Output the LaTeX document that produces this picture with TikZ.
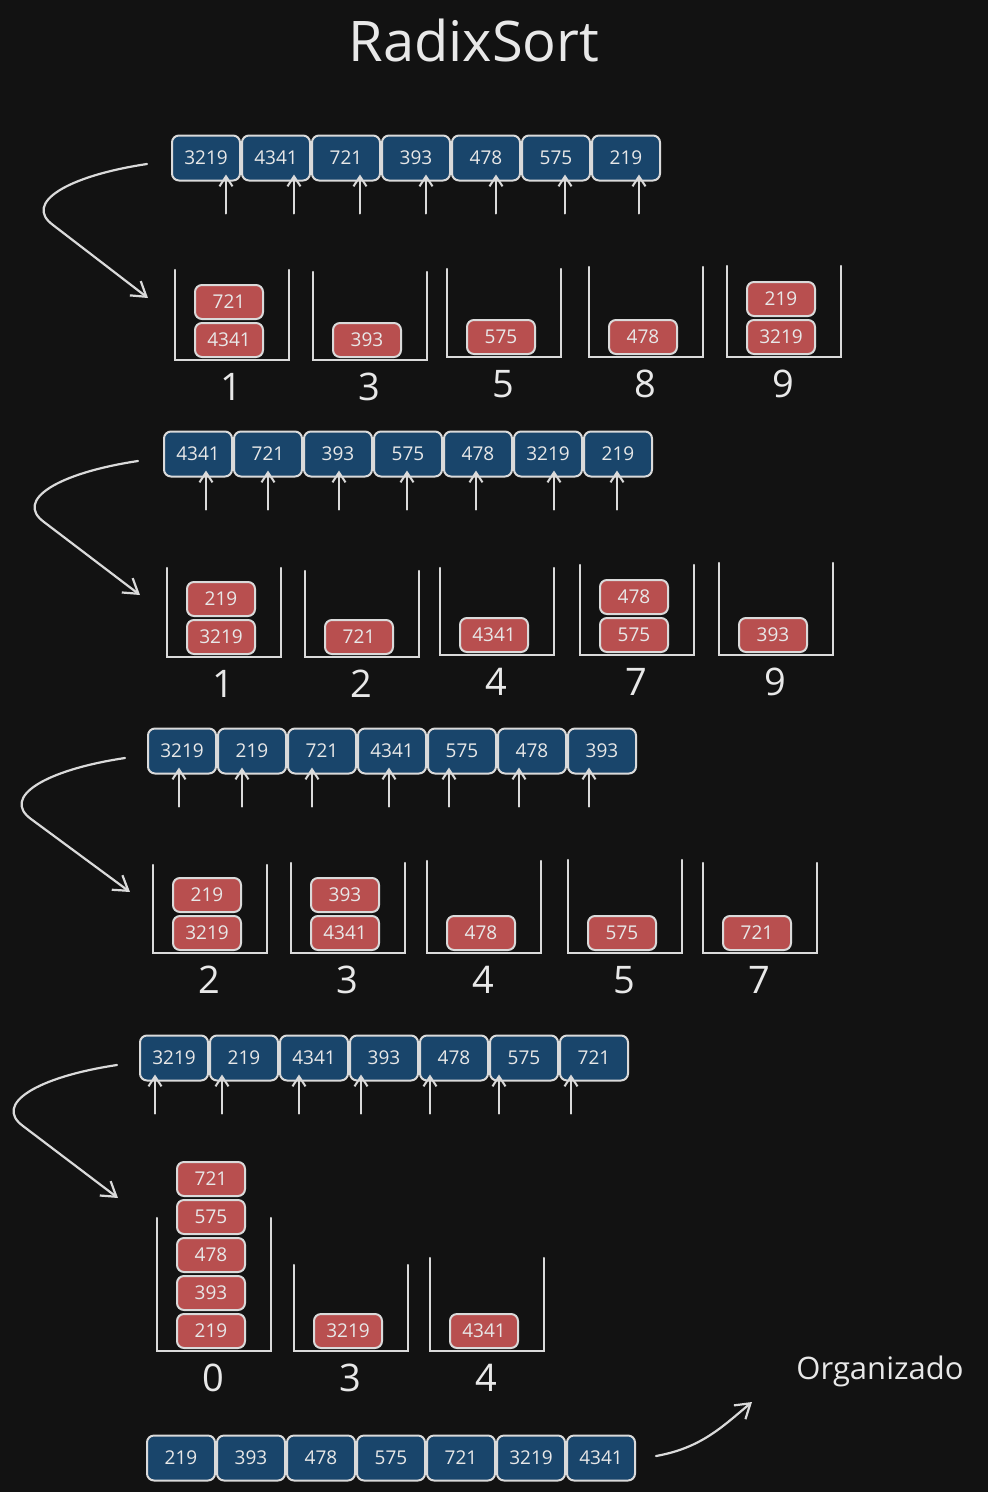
\documentclass[tikz,border=0pt]{standalone}
\usepackage{fontspec}
\setmainfont{Open Sans}
\usepackage{tikz}
\usetikzlibrary{
	calc,               %计算
	positioning,        %定位
	arrows.meta         %提供各种箭头
}
\definecolor{bgdark}{HTML}{121212}
\definecolor{cellblue}{HTML}{19456B}
\definecolor{cellred}{HTML}{B84F4F}
\definecolor{inkgray}{HTML}{DADADA}
\definecolor{textgray}{HTML}{E8E8E8}
\newcommand{\cellfont}{\fontsize{19}{19}\selectfont}
\newcommand{\binfont}{\fontsize{38}{38}\selectfont}
\tikzset{
	every picture/.style={
		>={Straight Barb[length=10pt,width=13pt]},
		line cap=round,
		node distance=2pt and 2pt
	},
	cell/.style={rectangle,
		rounded corners=7pt,
		draw=inkgray,
		line width=2pt,
		minimum width=68pt,
		text=textgray,
		font=\cellfont,
		inner sep=0pt},
	bluecell/.style={cell,fill=cellblue,minimum height=45pt},
	redcell/.style={cell,fill=cellred,minimum height=34pt},
	bucketline/.style={draw=inkgray,line width=2.2pt},
	pointer/.style={->,draw=inkgray,line width=2pt,shorten >=-7pt},
	sweep/.style={-{Straight Barb[length=14pt,width=18pt]},draw=inkgray,line width=2.2pt},
	binlabel/.style={text=textgray,font=\binfont,inner sep=0pt}
}
% 桶: 名称, 左边x, 底边y, 高度
\newcommand{\bucket}[4]{%
	\draw[bucketline] (#2,#3-#4) -- (#2,#3) -- (#2+114,#3) -- (#2+114,#3-#4);
	\coordinate (#1) at (#2+54,#3);
}

\begin{document}
\begin{tikzpicture}[x=1pt,y=-1pt]
\useasboundingbox (0,0) rectangle (988,1492);
\fill[bgdark] (0,0) rectangle (988,1492);

\node[text=textgray,font=\fontsize{56}{56}\selectfont] (title) at (474,40) {RadixSort};

% 第一轮 (个位)
\foreach \v/\dx [count=\i] in {3219/20,4341/18,721/14,393/10,478/10,575/9,219/13}{
	\node[bluecell] (a\i) at (206+70*\i-70,158) {\v};
	\coordinate (pa\i) at ($(a\i.south)+(\dx,32)$);
	\draw[pointer] (pa\i) -- (pa\i |- a\i.south);
}
\coordinate (s1) at (147,164);
\coordinate (e1) at (148,298);
\draw[sweep] (s1) .. controls +(-80,12) and +(-30,-22) .. +(-94,61) -- (e1);

\bucket{k11}{175}{360}{90}
\bucket{k13}{313}{360}{88}
\bucket{k15}{447}{357}{88}
\bucket{k18}{589}{357}{90}
\bucket{k19}{727}{357}{91}
\node[redcell,above=2pt of k11] (r11a) {4341};
\node[redcell,above=2pt of r11a] (r11b) {721};
\node[redcell,above=2pt of k13] (r13a) {393};
\node[redcell,above=2pt of k15] (r15a) {575};
\node[redcell,above=2pt of k18] (r18a) {478};
\node[redcell,above=2pt of k19] (r19a) {3219};
\node[redcell,above=2pt of r19a] (r19b) {219};
\foreach \k/\d in {k11/1,k13/3,k15/5,k18/8,k19/9}
	\node[binlabel] (l\k) at ($(\k)+(2,27)$) {\d};

% 第二轮 (十位)
\foreach \v/\dx [count=\i] in {4341/8,721/0,393/1,575/-1,478/-2,3219/6,219/-1}{
	\node[bluecell] (b\i) at (198+70*\i-70,454) {\v};
	\coordinate (pb\i) at ($(b\i.south)+(\dx,32)$);
	\draw[pointer] (pb\i) -- (pb\i |- b\i.south);
}
\coordinate (s2) at (138,461);
\coordinate (e2) at (140,595);
\draw[sweep] (s2) .. controls +(-80,12) and +(-30,-22) .. +(-94,61) -- (e2);

\bucket{k21}{167}{657}{89}
\bucket{k22}{305}{657}{86}
\bucket{k24}{440}{655}{87}
\bucket{k27}{580}{655}{90}
\bucket{k29}{719}{655}{92}
\node[redcell,above=2pt of k21] (r21a) {3219};
\node[redcell,above=2pt of r21a] (r21b) {219};
\node[redcell,above=2pt of k22] (r22a) {721};
\node[redcell,above=2pt of k24] (r24a) {4341};
\node[redcell,above=2pt of k27] (r27a) {575};
\node[redcell,above=2pt of r27a] (r27b) {478};
\node[redcell,above=2pt of k29] (r29a) {393};
\foreach \k/\d in {k21/1,k22/2,k24/4,k27/7,k29/9}
	\node[binlabel] (l\k) at ($(\k)+(2,27)$) {\d};

% 第三轮 (百位)
\foreach \v/\dx [count=\i] in {3219/-3,219/-10,721/-10,4341/-3,575/-13,478/-13,393/-13}{
	\node[bluecell] (c\i) at (182+70*\i-70,751) {\v};
	\coordinate (pc\i) at ($(c\i.south)+(\dx,32)$);
	\draw[pointer] (pc\i) -- (pc\i |- c\i.south);
}
\coordinate (s3) at (125,758);
\coordinate (e3) at (130,892);
\draw[sweep] (s3) .. controls +(-80,12) and +(-30,-22) .. +(-94,61) -- (e3);

\bucket{k32}{153}{953}{88}
\bucket{k33}{291}{953}{90}
\bucket{k34}{427}{953}{92}
\bucket{k35}{568}{953}{93}
\bucket{k37}{703}{953}{90}
\node[redcell,above=2pt of k32] (r32a) {3219};
\node[redcell,above=2pt of r32a] (r32b) {219};
\node[redcell,above=2pt of k33] (r33a) {4341};
\node[redcell,above=2pt of r33a] (r33b) {393};
\node[redcell,above=2pt of k34] (r34a) {478};
\node[redcell,above=2pt of k35] (r35a) {575};
\node[redcell,above=2pt of k37] (r37a) {721};
\foreach \k/\d in {k32/2,k33/3,k34/4,k35/5,k37/7}
	\node[binlabel] (l\k) at ($(\k)+(2,27)$) {\d};

% 第四轮 (千位)
\foreach \v/\dx [count=\i] in {3219/-19,219/-22,4341/-15,393/-23,478/-24,575/-25,721/-23}{
	\node[bluecell] (d\i) at (174+70*\i-70,1058) {\v};
	\coordinate (pd\i) at ($(d\i.south)+(\dx,32)$);
	\draw[pointer] (pd\i) -- (pd\i |- d\i.south);
}
\coordinate (s4) at (117,1065);
\coordinate (e4) at (118,1198);
\draw[sweep] (s4) .. controls +(-80,12) and +(-30,-22) .. +(-94,61) -- (e4);

\bucket{k40}{157}{1351}{133}
\bucket{k43}{294}{1351}{86}
\bucket{k44}{430}{1351}{93}
\node[redcell,above=2pt of k40] (r40a) {219};
\node[redcell,above=2pt of r40a] (r40b) {393};
\node[redcell,above=2pt of r40b] (r40c) {478};
\node[redcell,above=2pt of r40c] (r40d) {575};
\node[redcell,above=2pt of r40d] (r40e) {721};
\node[redcell,above=2pt of k43] (r43a) {3219};
\node[redcell,above=2pt of k44] (r44a) {4341};
\foreach \k/\d in {k40/0,k43/3,k44/4}
	\node[binlabel] (l\k) at ($(\k)+(2,27)$) {\d};

% 结果
\foreach \v [count=\i] in {219,393,478,575,721,3219,4341}
	\node[bluecell] (f\i) at (181+70*\i-70,1458) {\v};
\node[text=textgray,font=\fontsize{31}{31}\selectfont] (done) at (880,1371) {Organizado};
\coordinate (tip) at (752,1402);
\draw[sweep] ($(f7.east)+(20,-2)$) .. controls +(45,-8) and +(-30,25) .. (tip);
\end{tikzpicture}
\end{document}
